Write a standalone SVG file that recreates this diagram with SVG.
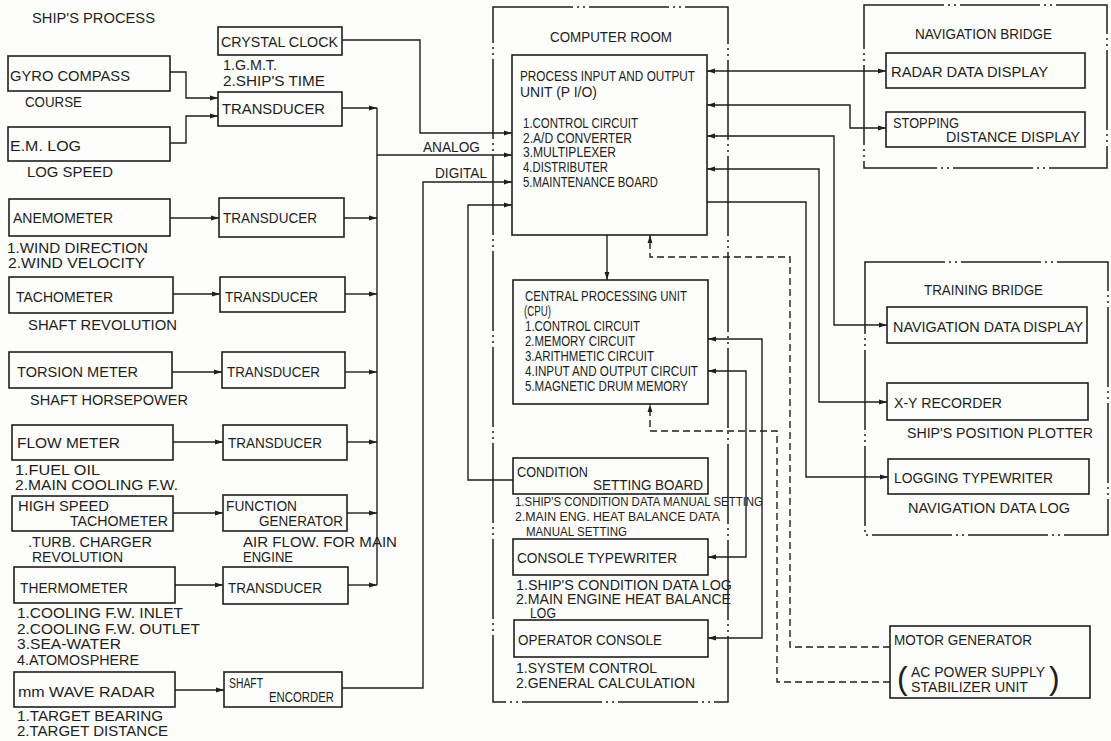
<svg xmlns="http://www.w3.org/2000/svg" width="1111" height="741" viewBox="0 0 1111 741">
  <style>
    .bx { fill: none; stroke: #1e1e1e; stroke-width: 1.6; }
    .ln { fill: none; stroke: #1e1e1e; stroke-width: 1.4; }
    .dl { fill: none; stroke: #1e1e1e; stroke-width: 1.4; stroke-dasharray: 7 4; }
    .rm { fill: none; stroke: #1e1e1e; stroke-width: 1.5; stroke-dasharray: 80 4 2 4 2 4; }
    text { font-family: "Liberation Sans", Arial, sans-serif; font-size: 15.5px; fill: #1e1e1e; }
    .cu { font-size: 14.5px; }
    .sm { font-size: 13px; }
    .lg { font-size: 14px; }
    .par { font-size: 32px; font-weight: 300; }
  </style>
  <defs>
    <marker id="ah" markerUnits="userSpaceOnUse" markerWidth="8" markerHeight="6" viewBox="0 0 8 6" refX="8" refY="3" orient="auto-start-reverse">
      <path d="M0,0.6 L8,3 L0,5.4 z" fill="#1e1e1e"/>
    </marker>
  </defs>

  <rect x="0" y="0" width="1111" height="741" fill="#fdfdfb"/>

  <!-- heading of the ship's process column -->
  <text x="32" y="23" textLength="123" lengthAdjust="spacingAndGlyphs">SHIP'S PROCESS</text>

  <!-- rooms (dash-dot outlines) -->
  <g id="computer-room">
    <rect class="rm" x="493" y="7" width="235" height="695"/>
    <text x="550" y="42" textLength="122" lengthAdjust="spacingAndGlyphs">COMPUTER ROOM</text>
  </g>
  <g id="navigation-bridge">
    <rect class="rm" x="864" y="5" width="243" height="163"/>
    <text x="915" y="39" textLength="137" lengthAdjust="spacingAndGlyphs">NAVIGATION BRIDGE</text>
  </g>
  <g id="training-bridge">
    <rect class="rm" x="865" y="262" width="243" height="273"/>
    <text x="924" y="295" textLength="119" lengthAdjust="spacingAndGlyphs">TRAINING BRIDGE</text>
  </g>

  <!-- sensors -->
  <g id="gyro-compass">
    <rect class="bx" x="8" y="56" width="162" height="35"/>
    <text x="10" y="81" textLength="120" lengthAdjust="spacingAndGlyphs">GYRO COMPASS</text>
    <text x="25" y="107" textLength="57" lengthAdjust="spacingAndGlyphs">COURSE</text>
  </g>
  <g id="em-log">
    <rect class="bx" x="8" y="127" width="162" height="34"/>
    <text x="10" y="151" textLength="71" lengthAdjust="spacingAndGlyphs">E.M. LOG</text>
    <text x="27" y="177" textLength="86" lengthAdjust="spacingAndGlyphs">LOG SPEED</text>
  </g>
  <g id="crystal-clock">
    <rect class="bx" x="218" y="27" width="124" height="28"/>
    <text x="221" y="47" textLength="117" lengthAdjust="spacingAndGlyphs">CRYSTAL CLOCK</text>
    <text x="223" y="70" textLength="54" lengthAdjust="spacingAndGlyphs">1.G.M.T.</text>
    <text x="223" y="86" textLength="102" lengthAdjust="spacingAndGlyphs">2.SHIP'S TIME</text>
  </g>
  <g id="transducer-1">
    <rect class="bx" x="218" y="92" width="124" height="34"/>
    <text x="222" y="114" textLength="103" lengthAdjust="spacingAndGlyphs">TRANSDUCER</text>
  </g>

  <g id="anemometer">
    <rect class="bx" x="9" y="199" width="161" height="37"/>
    <text x="13" y="223" textLength="100" lengthAdjust="spacingAndGlyphs">ANEMOMETER</text>
    <text x="7" y="253" textLength="141" lengthAdjust="spacingAndGlyphs">1.WIND DIRECTION</text>
    <text x="8" y="268" textLength="137" lengthAdjust="spacingAndGlyphs">2.WIND VELOCITY</text>
  </g>
  <g id="transducer-2">
    <rect class="bx" x="219" y="198" width="125" height="39"/>
    <text x="223" y="223" textLength="94" lengthAdjust="spacingAndGlyphs">TRANSDUCER</text>
  </g>

  <g id="tachometer">
    <rect class="bx" x="9" y="277" width="164" height="36"/>
    <text x="16" y="302" textLength="97" lengthAdjust="spacingAndGlyphs">TACHOMETER</text>
    <text x="28" y="330" textLength="149" lengthAdjust="spacingAndGlyphs">SHAFT REVOLUTION</text>
  </g>
  <g id="transducer-3">
    <rect class="bx" x="220" y="277" width="125" height="35"/>
    <text x="225" y="302" textLength="93" lengthAdjust="spacingAndGlyphs">TRANSDUCER</text>
  </g>

  <g id="torsion-meter">
    <rect class="bx" x="9" y="352" width="163" height="36"/>
    <text x="17" y="377" textLength="121" lengthAdjust="spacingAndGlyphs">TORSION METER</text>
    <text x="30" y="405" textLength="158" lengthAdjust="spacingAndGlyphs">SHAFT HORSEPOWER</text>
  </g>
  <g id="transducer-4">
    <rect class="bx" x="222" y="352" width="123" height="36"/>
    <text x="227" y="377" textLength="93" lengthAdjust="spacingAndGlyphs">TRANSDUCER</text>
  </g>

  <g id="flow-meter">
    <rect class="bx" x="12" y="425" width="161" height="35"/>
    <text x="17" y="448" textLength="103" lengthAdjust="spacingAndGlyphs">FLOW METER</text>
    <text class="lg" x="15" y="475" textLength="85" lengthAdjust="spacingAndGlyphs">1.FUEL OIL</text>
    <text class="lg" x="15" y="490" textLength="163" lengthAdjust="spacingAndGlyphs">2.MAIN COOLING F.W.</text>
  </g>
  <g id="transducer-5">
    <rect class="bx" x="223" y="425" width="124" height="35"/>
    <text x="228" y="448" textLength="94" lengthAdjust="spacingAndGlyphs">TRANSDUCER</text>
  </g>

  <g id="high-speed-tachometer">
    <rect class="bx" x="12" y="496" width="161" height="35"/>
    <text x="18" y="511" textLength="91" lengthAdjust="spacingAndGlyphs">HIGH SPEED</text>
    <text x="70" y="526" textLength="98" lengthAdjust="spacingAndGlyphs">TACHOMETER</text>
    <text x="28" y="547" textLength="124" lengthAdjust="spacingAndGlyphs">.TURB. CHARGER</text>
    <text x="32" y="562" textLength="91" lengthAdjust="spacingAndGlyphs">REVOLUTION</text>
  </g>
  <g id="function-generator">
    <rect class="bx" x="223" y="495" width="124" height="36"/>
    <text x="226" y="511" textLength="71" lengthAdjust="spacingAndGlyphs">FUNCTION</text>
    <text x="259" y="526" textLength="84" lengthAdjust="spacingAndGlyphs">GENERATOR</text>
    <text x="243" y="547" textLength="154" lengthAdjust="spacingAndGlyphs">AIR FLOW. FOR MAIN</text>
    <text x="243" y="562" textLength="50" lengthAdjust="spacingAndGlyphs">ENGINE</text>
  </g>

  <g id="thermometer">
    <rect class="bx" x="14" y="567" width="161" height="36"/>
    <text x="20" y="593" textLength="108" lengthAdjust="spacingAndGlyphs">THERMOMETER</text>
    <text x="17" y="618" textLength="166" lengthAdjust="spacingAndGlyphs">1.COOLING F.W. INLET</text>
    <text x="17" y="634" textLength="183" lengthAdjust="spacingAndGlyphs">2.COOLING F.W. OUTLET</text>
    <text x="17" y="649" textLength="104" lengthAdjust="spacingAndGlyphs">3.SEA-WATER</text>
    <text x="17" y="665" textLength="122" lengthAdjust="spacingAndGlyphs">4.ATOMOSPHERE</text>
  </g>
  <g id="transducer-6">
    <rect class="bx" x="223" y="567" width="125" height="37"/>
    <text x="228" y="593" textLength="94" lengthAdjust="spacingAndGlyphs">TRANSDUCER</text>
  </g>

  <g id="mm-wave-radar">
    <rect class="bx" x="14" y="672" width="161" height="35"/>
    <text x="18" y="697" textLength="137" lengthAdjust="spacingAndGlyphs">mm WAVE RADAR</text>
    <text x="17" y="721" textLength="146" lengthAdjust="spacingAndGlyphs">1.TARGET BEARING</text>
    <text x="17" y="736" textLength="151" lengthAdjust="spacingAndGlyphs">2.TARGET DISTANCE</text>
  </g>
  <g id="shaft-encorder">
    <rect class="bx" x="224" y="672" width="118" height="35"/>
    <text x="229" y="688" textLength="34" lengthAdjust="spacingAndGlyphs">SHAFT</text>
    <text x="269" y="702" textLength="65" lengthAdjust="spacingAndGlyphs">ENCORDER</text>
  </g>

  <!-- computer room units -->
  <g id="pio">
    <rect class="bx" x="512" y="55" width="195" height="180"/>
    <text class="cu" x="520" y="81" textLength="175" lengthAdjust="spacingAndGlyphs">PROCESS INPUT AND OUTPUT</text>
    <text class="cu" x="520" y="97" textLength="77" lengthAdjust="spacingAndGlyphs">UNIT (P I/O)</text>
    <text class="cu" x="523" y="128" textLength="115" lengthAdjust="spacingAndGlyphs">1.CONTROL CIRCUIT</text>
    <text class="cu" x="523" y="143" textLength="109" lengthAdjust="spacingAndGlyphs">2.A/D CONVERTER</text>
    <text class="cu" x="523" y="157" textLength="93" lengthAdjust="spacingAndGlyphs">3.MULTIPLEXER</text>
    <text class="cu" x="523" y="172" textLength="85" lengthAdjust="spacingAndGlyphs">4.DISTRIBUTER</text>
    <text class="cu" x="523" y="187" textLength="135" lengthAdjust="spacingAndGlyphs">5.MAINTENANCE BOARD</text>
  </g>
  <g id="cpu">
    <rect class="bx" x="513" y="280" width="195" height="124"/>
    <text class="cu" x="525" y="301" textLength="162" lengthAdjust="spacingAndGlyphs">CENTRAL PROCESSING UNIT</text>
    <text class="cu" x="524" y="316" textLength="27" lengthAdjust="spacingAndGlyphs">(CPU)</text>
    <text class="cu" x="525" y="331" textLength="115" lengthAdjust="spacingAndGlyphs">1.CONTROL CIRCUIT</text>
    <text class="cu" x="525" y="346" textLength="110" lengthAdjust="spacingAndGlyphs">2.MEMORY CIRCUIT</text>
    <text class="cu" x="525" y="361" textLength="129" lengthAdjust="spacingAndGlyphs">3.ARITHMETIC CIRCUIT</text>
    <text class="cu" x="525" y="376" textLength="173" lengthAdjust="spacingAndGlyphs">4.INPUT AND OUTPUT CIRCUIT</text>
    <text class="cu" x="525" y="391" textLength="163" lengthAdjust="spacingAndGlyphs">5.MAGNETIC DRUM MEMORY</text>
  </g>
  <g id="condition-setting-board">
    <rect class="bx" x="513" y="458" width="195" height="36"/>
    <text x="517" y="477" textLength="71" lengthAdjust="spacingAndGlyphs">CONDITION</text>
    <text x="593" y="490" textLength="110" lengthAdjust="spacingAndGlyphs">SETTING BOARD</text>
    <text class="sm" x="515" y="506" textLength="248" lengthAdjust="spacingAndGlyphs">1.SHIP'S CONDITION DATA MANUAL SETTING</text>
    <text class="sm" x="515" y="521" textLength="205" lengthAdjust="spacingAndGlyphs">2.MAIN ENG. HEAT BALANCE DATA</text>
    <text class="sm" x="526" y="536" textLength="101" lengthAdjust="spacingAndGlyphs">MANUAL SETTING</text>
  </g>
  <g id="console-typewriter">
    <rect class="bx" x="513" y="539" width="195" height="36"/>
    <text x="517" y="563" textLength="160" lengthAdjust="spacingAndGlyphs">CONSOLE TYPEWRITER</text>
    <text class="lg" x="516" y="590" textLength="216" lengthAdjust="spacingAndGlyphs">1.SHIP'S CONDITION DATA LOG</text>
    <text class="lg" x="516" y="604" textLength="215" lengthAdjust="spacingAndGlyphs">2.MAIN ENGINE HEAT BALANCE</text>
    <text class="lg" x="530" y="618" textLength="26" lengthAdjust="spacingAndGlyphs">LOG</text>
  </g>
  <g id="operator-console">
    <rect class="bx" x="514" y="620" width="194" height="37"/>
    <text x="518" y="645" textLength="144" lengthAdjust="spacingAndGlyphs">OPERATOR CONSOLE</text>
    <text x="516" y="673" textLength="141" lengthAdjust="spacingAndGlyphs">1.SYSTEM CONTROL</text>
    <text x="516" y="688" textLength="179" lengthAdjust="spacingAndGlyphs">2.GENERAL CALCULATION</text>
  </g>

  <!-- bridge displays -->
  <g id="radar-data-display">
    <rect class="bx" x="886" y="53" width="199" height="35"/>
    <text x="891" y="77" textLength="157" lengthAdjust="spacingAndGlyphs">RADAR DATA DISPLAY</text>
  </g>
  <g id="stopping-distance-display">
    <rect class="bx" x="886" y="112" width="199" height="35"/>
    <text x="893" y="128" textLength="66" lengthAdjust="spacingAndGlyphs">STOPPING</text>
    <text x="946" y="142" textLength="134" lengthAdjust="spacingAndGlyphs">DISTANCE DISPLAY</text>
  </g>
  <g id="navigation-data-display">
    <rect class="bx" x="887" y="307" width="200" height="36"/>
    <text x="893" y="332" textLength="190" lengthAdjust="spacingAndGlyphs">NAVIGATION DATA DISPLAY</text>
  </g>
  <g id="xy-recorder">
    <rect class="bx" x="887" y="383" width="201" height="37"/>
    <text x="894" y="408" textLength="108" lengthAdjust="spacingAndGlyphs">X-Y RECORDER</text>
    <text x="907" y="438" textLength="186" lengthAdjust="spacingAndGlyphs">SHIP'S POSITION PLOTTER</text>
  </g>
  <g id="logging-typewriter">
    <rect class="bx" x="888" y="459" width="201" height="35"/>
    <text x="894" y="483" textLength="159" lengthAdjust="spacingAndGlyphs">LOGGING TYPEWRITER</text>
    <text x="908" y="513" textLength="162" lengthAdjust="spacingAndGlyphs">NAVIGATION DATA LOG</text>
  </g>
  <g id="motor-generator">
    <rect class="bx" x="890" y="626" width="200" height="72"/>
    <text x="894" y="645" textLength="138" lengthAdjust="spacingAndGlyphs">MOTOR GENERATOR</text>
    <text class="par" x="897" y="689">(</text>
    <text class="lg" x="911" y="677" textLength="134" lengthAdjust="spacingAndGlyphs">AC POWER SUPPLY</text>
    <text class="lg" x="911" y="692" textLength="117" lengthAdjust="spacingAndGlyphs">STABILIZER UNIT</text>
    <text class="par" x="1049" y="689">)</text>
  </g>

  <!-- signal lines -->
  <g id="connectors">
    <!-- navigation sensors into the first transducer -->
    <polyline class="ln" points="170,72 186,72 186,98 218,98" marker-end="url(#ah)"/>
    <polyline class="ln" points="170,143 186,143 186,116 218,116" marker-end="url(#ah)"/>

    <!-- sensors to transducers -->
    <line class="ln" x1="170" y1="218" x2="219" y2="218" marker-end="url(#ah)"/>
    <line class="ln" x1="173" y1="294" x2="220" y2="294" marker-end="url(#ah)"/>
    <line class="ln" x1="172" y1="372" x2="222" y2="372" marker-end="url(#ah)"/>
    <line class="ln" x1="173" y1="442" x2="223" y2="442" marker-end="url(#ah)"/>
    <line class="ln" x1="173" y1="513" x2="223" y2="513" marker-end="url(#ah)"/>
    <line class="ln" x1="175" y1="585" x2="223" y2="585" marker-end="url(#ah)"/>
    <line class="ln" x1="175" y1="690" x2="224" y2="690" marker-end="url(#ah)"/>

    <!-- analog bus -->
    <line class="ln" x1="377" y1="108" x2="377" y2="585"/>
    <line class="ln" x1="342" y1="108" x2="377" y2="108" marker-end="url(#ah)"/>
    <line class="ln" x1="344" y1="218" x2="377" y2="218" marker-end="url(#ah)"/>
    <line class="ln" x1="345" y1="294" x2="377" y2="294" marker-end="url(#ah)"/>
    <line class="ln" x1="345" y1="372" x2="377" y2="372" marker-end="url(#ah)"/>
    <line class="ln" x1="347" y1="442" x2="377" y2="442" marker-end="url(#ah)"/>
    <line class="ln" x1="347" y1="513" x2="377" y2="513" marker-end="url(#ah)"/>
    <line class="ln" x1="348" y1="585" x2="377" y2="585" marker-end="url(#ah)"/>
    <line class="ln" x1="377" y1="155" x2="512" y2="155" marker-end="url(#ah)"/>
    <text x="423" y="152" textLength="57" lengthAdjust="spacingAndGlyphs">ANALOG</text>

    <!-- crystal clock -->
    <polyline class="ln" points="342,40 420,40 420,133 512,133" marker-end="url(#ah)"/>

    <!-- digital line from the shaft encorder -->
    <polyline class="ln" points="342,688 423,688 423,182 512,182" marker-end="url(#ah)"/>
    <text x="435" y="178" textLength="52" lengthAdjust="spacingAndGlyphs">DIGITAL</text>

    <!-- condition setting board to P I/O -->
    <polyline class="ln" points="513,480 468,480 468,205 512,205" marker-end="url(#ah)"/>

    <!-- P I/O to CPU -->
    <line class="ln" x1="607" y1="235" x2="607" y2="280" marker-end="url(#ah)"/>

    <!-- P I/O to the bridges -->
    <line class="ln" x1="707" y1="71" x2="886" y2="71" marker-start="url(#ah)" marker-end="url(#ah)"/>
    <polyline class="ln" points="707,105 850,105 850,128 886,128" marker-start="url(#ah)" marker-end="url(#ah)"/>
    <polyline class="ln" points="707,136 834,136 834,325 887,325" marker-start="url(#ah)" marker-end="url(#ah)"/>
    <polyline class="ln" points="707,169 819,169 819,402 887,402" marker-start="url(#ah)" marker-end="url(#ah)"/>
    <polyline class="ln" points="707,202 806,202 806,477 888,477" marker-end="url(#ah)"/>

    <!-- CPU to console typewriter and operator console -->
    <polyline class="ln" points="708,339 762,339 762,638 708,638" marker-start="url(#ah)" marker-end="url(#ah)"/>
    <polyline class="ln" points="708,371 746,371 746,557 708,557" marker-start="url(#ah)" marker-end="url(#ah)"/>

    <!-- power supply from the motor generator (dashed) -->
    <polyline class="dl" points="890,647 790,647 790,257 650,257 650,235" marker-end="url(#ah)"/>
    <polyline class="dl" points="890,682 777,682 777,431 650,431 650,404" marker-end="url(#ah)"/>
  </g>
</svg>
